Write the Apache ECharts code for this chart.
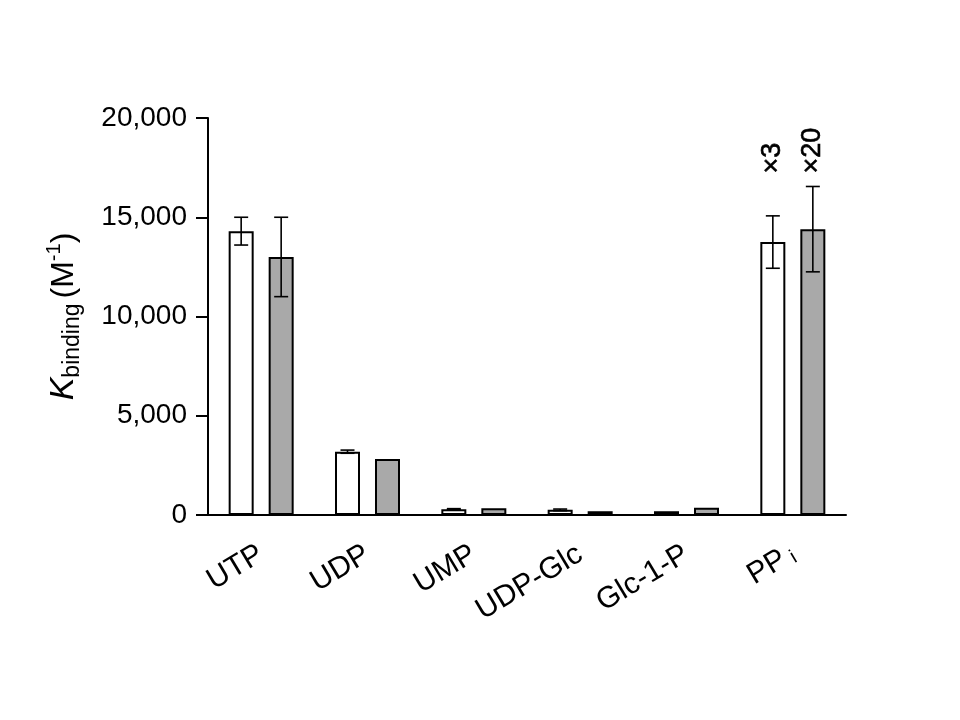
<!DOCTYPE html>
<html>
<head>
<meta charset="utf-8">
<script src="https://cdn.jsdelivr.net/npm/echarts@6/dist/echarts.min.js"></script>
<style>
  html, body { margin: 0; padding: 0; background: #fff; }
  #chart { width: 960px; height: 720px; }
</style>
</head>
<body>
<div id="chart"></div>
<script>
// data
const categories = ['UTP', 'UDP', 'UMP', 'UDP-Glc', 'Glc-1-P', 'PPi'];
const openValues = [14300, 3190, 290, 260, 190, 13750];
const openErrors = [700, 80, 30, 40, 0, 1320];
const greyValues = [13000, 2820, 340, 190, 360, 14400];
const greyErrors = [2000, 0, 0, 0, 0, 2150];
const openNotes = ['', '', '', '', '', '×3'];
const greyNotes = ['', '', '', '', '', '×20'];
const yTicks = [0, 5000, 10000, 15000, 20000];
const noteLevel = 17200;

const FONT = '"Liberation Sans", Arial, sans-serif';
const BAR_W = 25;
const OFFSET = 20; // px from category centre to bar centre

const chart = echarts.init(document.getElementById('chart'));

// error bar + annotation drawing
function errorSeries(values, errors, notes, side) {
  return {
    type: 'custom',
    z: 10,
    data: values.map((v, i) => [i, v, errors[i]]),
    renderItem: (params, api) => {
      const i = api.value(0);
      const v = api.value(1);
      const e = api.value(2);
      const note = notes[i];
      const base = api.coord([i, v]);
      const x = base[0] + side * OFFSET;
      const children = [];
      if (e > 0) {
        const top = api.coord([i, v + e])[1];
        const bot = api.coord([i, v - e])[1];
        const style = { stroke: '#000', lineWidth: 1.6 };
        children.push(
          { type: 'line', shape: { x1: x, y1: top, x2: x, y2: bot }, style },
          { type: 'line', shape: { x1: x - 7, y1: top, x2: x + 7, y2: top }, style },
          { type: 'line', shape: { x1: x - 7, y1: bot, x2: x + 7, y2: bot }, style }
        );
      }
      if (note) {
        const ny = api.coord([i, noteLevel])[1];
        children.push({
          type: 'text',
          x: x, y: ny,
          rotation: Math.PI / 2,
          style: {
            text: note, fill: '#000', font: '27px ' + FONT,
            stroke: '#000', lineWidth: 0.6,
            align: 'left', verticalAlign: 'middle'
          }
        });
      }
      return { type: 'group', children };
    }
  };
}

const option = {
  backgroundColor: '#fff',
  animation: false,
  grid: { left: 208, right: 114, top: 118, bottom: 205 },
  xAxis: {
    type: 'category',
    data: categories,
    axisLine: { lineStyle: { color: '#000', width: 2 } },
    axisTick: { alignWithLabel: true, length: 11, lineStyle: { color: '#000', width: 2 } },
    axisLabel: {
      rotate: 31,
      margin: 37,
      color: '#000',
      fontFamily: FONT,
      fontSize: 30,
      interval: 0,
      formatter: v => v === 'PPi' ? 'PP{sub| i}' : v,
      rich: {
        sub: { fontSize: 20, fontFamily: FONT, color: '#000', verticalAlign: 'bottom', lineHeight: 20 }
      }
    }
  },
  yAxis: {
    type: 'value',
    min: yTicks[0],
    max: yTicks[yTicks.length - 1],
    interval: yTicks[1] - yTicks[0],
    splitLine: { show: false },
    axisLine: { show: true, lineStyle: { color: '#000', width: 2 } },
    axisTick: { show: true, length: 12, lineStyle: { color: '#000', width: 2 } },
    axisLabel: {
      margin: 21,
      color: '#000',
      fontFamily: FONT,
      fontSize: 28,
      formatter: v => v.toLocaleString('en-US')
    },
    name: '{k|K}{sub|binding}{gap|}{p|(M}{sup|-1}{p|)}',
    nameLocation: 'middle',
    nameRotate: 90,
    nameGap: 124,
    nameTextStyle: {
      rich: {
        k: { fontSize: 34, fontStyle: 'italic', fontFamily: FONT, color: '#000', lineHeight: 40 },
        p: { fontSize: 32, fontFamily: FONT, color: '#000', lineHeight: 40 },
        gap: { width: 5, lineHeight: 40 },
        sub: { fontSize: 23, fontFamily: FONT, color: '#000', lineHeight: 23, verticalAlign: 'bottom' },
        sup: { fontSize: 20, fontFamily: FONT, color: '#000', lineHeight: 20, verticalAlign: 'top' }
      }
    }
  },
  series: [
    {
      type: 'bar',
      data: openValues,
      barWidth: BAR_W,
      barGap: ((2 * OFFSET - BAR_W) / BAR_W * 100) + '%',
      itemStyle: { color: '#fff', borderColor: '#000', borderWidth: 2 }
    },
    {
      type: 'bar',
      data: greyValues,
      barWidth: BAR_W,
      itemStyle: { color: '#a9a9a9', borderColor: '#000', borderWidth: 2 }
    },
    errorSeries(openValues, openErrors, openNotes, -1),
    errorSeries(greyValues, greyErrors, greyNotes, 1)
  ]
};

chart.setOption(option);
</script>
</body>
</html>
